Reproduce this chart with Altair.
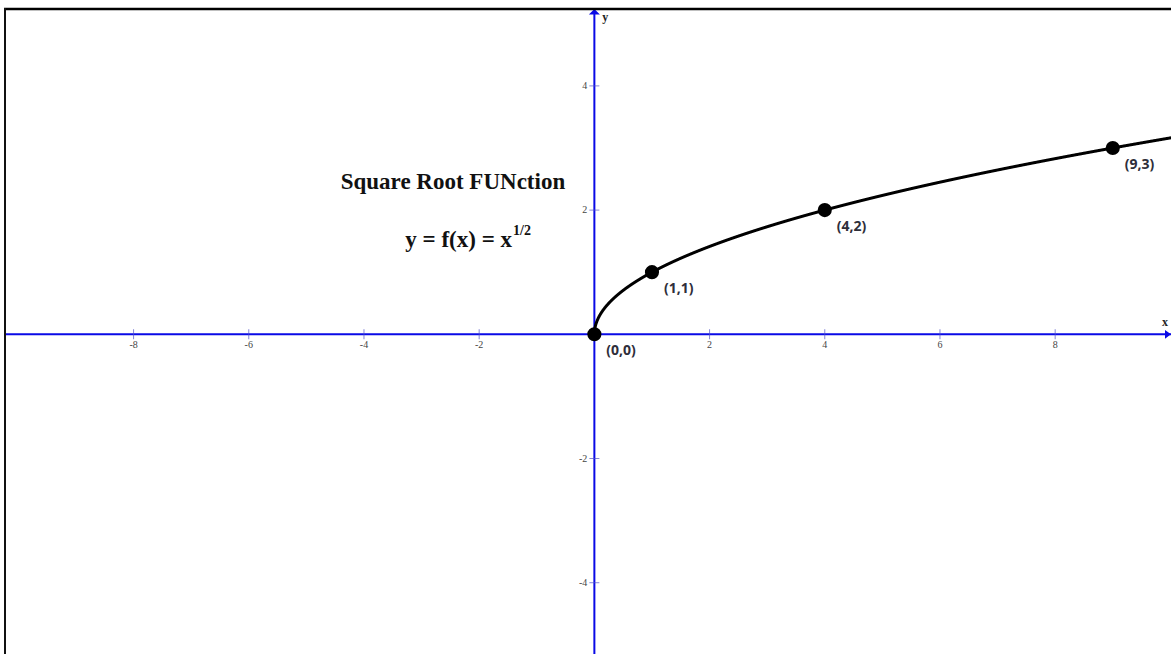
import altair as alt
import pandas as pd

# Axis tick values
x_ticks = [-8, -6, -4, -2, 2, 4, 6, 8]
y_ticks = [-4, -2, 2, 4]

# Highlighted points on y = sqrt(x)
point_x = [0, 1, 4, 9]
point_y = [0, 1, 2, 3]
point_labels = ["(0,0)", "(1,1)", "(4,2)", "(9,3)"]

title_text = "Square Root FUNction"
equation_text = "y = f(x) = x"
exponent_text = "1/2"

W, H = 1171, 654
xs = alt.Scale(domain=[-10.319, 10.011], nice=False, zero=False)
ys = alt.Scale(domain=[-5.148, 5.383], nice=False, zero=False)
AXIS_BLUE = "#0a0ae6"
TICK_BLUE = "#5050c8"

tick_x_df = pd.DataFrame({"x": x_ticks, "y": [0] * len(x_ticks), "label": [str(v) for v in x_ticks]})
tick_y_df = pd.DataFrame({"x": [0] * len(y_ticks), "y": y_ticks, "label": [str(v) for v in y_ticks]})
pts_df = pd.DataFrame({"x": point_x, "y": point_y, "label": point_labels})

# Coordinate axes through the origin
x_axis_line = alt.Chart().mark_rule(color=AXIS_BLUE, strokeWidth=2).encode(
    x=alt.value(5), x2=alt.value(W), y=alt.datum(0, scale=ys)
)
y_axis_line = alt.Chart().mark_rule(color=AXIS_BLUE, strokeWidth=2).encode(
    x=alt.datum(0, scale=xs), y=alt.value(11), y2=alt.value(H)
)

# Arrowheads at the positive ends of the axes
y_arrow = alt.Chart().mark_point(
    shape="M-1,0.45 L0,-0.55 L1,0.45 Z", filled=True, color=AXIS_BLUE, opacity=1, size=121
).encode(x=alt.datum(0, scale=xs), y=alt.value(12))
x_arrow = alt.Chart().mark_point(
    shape="M-0.55,-0.8 L0.55,0 L-0.55,0.8 Z", filled=True, color=AXIS_BLUE, opacity=1, size=121
).encode(x=alt.value(W - 3), y=alt.datum(0, scale=ys))

# Tick marks crossing the axes
x_tick_marks = alt.Chart(tick_x_df).mark_tick(orient="vertical", size=10, thickness=1, color=TICK_BLUE).encode(
    x=alt.X("x:Q", scale=xs, axis=None), y=alt.Y("y:Q", scale=ys, axis=None)
)
y_tick_marks = alt.Chart(tick_y_df).mark_tick(orient="horizontal", size=10, thickness=1, color=TICK_BLUE).encode(
    x=alt.X("x:Q", scale=xs, axis=None), y=alt.Y("y:Q", scale=ys, axis=None)
)

x_tick_labels = alt.Chart(tick_x_df).mark_text(
    font="Liberation Serif", fontSize=10, color="#444444", dy=11, baseline="middle"
).encode(x=alt.X("x:Q", scale=xs), y=alt.Y("y:Q", scale=ys), text="label:N")
y_tick_labels = alt.Chart(tick_y_df).mark_text(
    font="Liberation Serif", fontSize=10, color="#444444", dx=-7, align="right", baseline="middle"
).encode(x=alt.X("x:Q", scale=xs), y=alt.Y("y:Q", scale=ys), text="label:N")

axis_name_x = alt.Chart().mark_text(
    text="x", font="Liberation Serif", fontWeight="bold", fontSize=12, color="#222222", baseline="middle"
).encode(x=alt.value(W - 6), y=alt.datum(0, scale=ys), yOffset=alt.value(-12))
axis_name_y = alt.Chart().mark_text(
    text="y", font="Liberation Serif", fontWeight="bold", fontSize=12, color="#222222", baseline="middle"
).encode(x=alt.datum(0, scale=xs), xOffset=alt.value(11), y=alt.value(17))

# The square root curve itself
curve = alt.Chart(alt.sequence(0, 10.3, 0.002, as_="x")).transform_calculate(
    y="sqrt(datum.x)"
).mark_line(color="black", strokeWidth=3, clip=True).encode(
    x=alt.X("x:Q", scale=xs), y=alt.Y("y:Q", scale=ys), order="x:Q"
)

points = alt.Chart(pts_df).mark_circle(color="black", size=200, opacity=1).encode(
    x=alt.X("x:Q", scale=xs), y=alt.Y("y:Q", scale=ys)
)
point_text = alt.Chart(pts_df).mark_text(
    font="Open Sans", fontWeight="bold", fontSize=14, color="#2e2e3a", align="left", baseline="middle", dx=12, dy=17
).encode(x=alt.X("x:Q", scale=xs), y=alt.Y("y:Q", scale=ys), text="label:N")

# Title and formula
title_mark = alt.Chart().mark_text(
    text=title_text, font="Liberation Serif", fontWeight="bold", fontSize=23, color="#111111", baseline="middle"
).encode(x=alt.datum(-2.455, scale=xs), y=alt.datum(2.452, scale=ys))
equation_mark = alt.Chart().mark_text(
    text=equation_text, font="Liberation Serif", fontWeight="bold", fontSize=23, color="#111111",
    align="right", baseline="middle"
).encode(x=alt.datum(-1.43, scale=xs), y=alt.datum(1.518, scale=ys))
exponent_mark = alt.Chart().mark_text(
    text=exponent_text, font="Liberation Serif", fontWeight="bold", fontSize=14, color="#111111",
    align="left", baseline="middle", dx=1, dy=-9
).encode(x=alt.datum(-1.43, scale=xs), y=alt.datum(1.518, scale=ys))

# Frame lines along the top and left edges
top_frame = alt.Chart().mark_rule(color="black", strokeWidth=2.5).encode(
    x=alt.value(4), x2=alt.value(W), y=alt.value(9)
)
left_frame = alt.Chart().mark_rule(color="#111111", strokeWidth=2).encode(
    x=alt.value(5), y=alt.value(8), y2=alt.value(H)
)

chart = alt.layer(
    x_axis_line, y_axis_line, x_tick_marks, y_tick_marks, x_tick_labels, y_tick_labels,
    x_arrow, y_arrow, axis_name_x, axis_name_y,
    curve, points, point_text, title_mark, equation_mark, exponent_mark,
    top_frame, left_frame,
).properties(
    width=W, height=H, padding=0, autosize=alt.AutoSizeParams(type="none"), background="white"
).configure_view(stroke=None).configure_axis(disable=True)

chart.save("out.html", embed_options={"renderer": "svg", "actions": False})
